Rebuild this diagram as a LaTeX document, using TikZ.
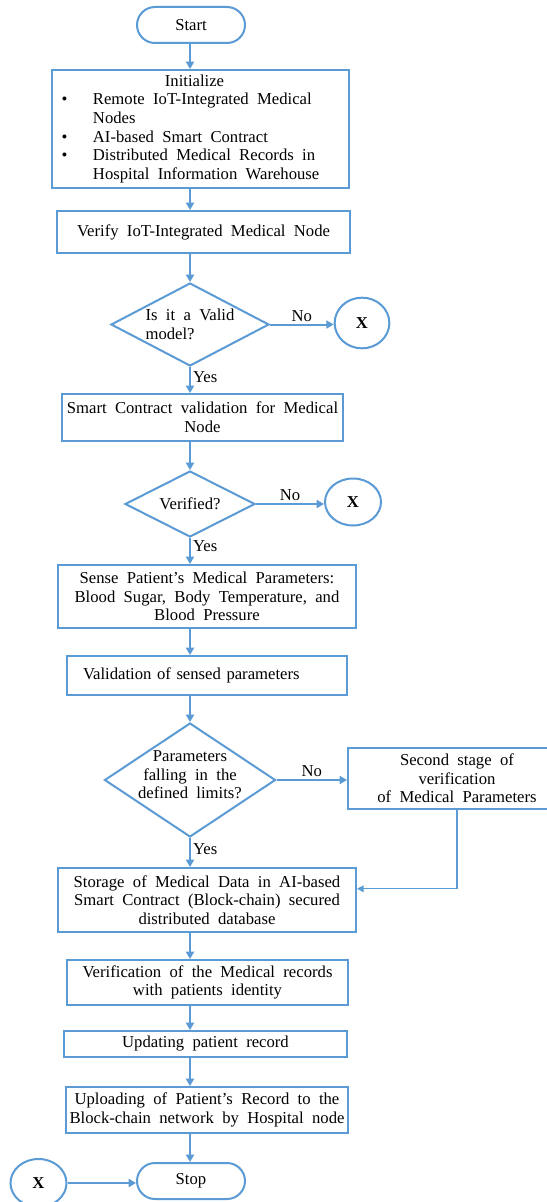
\documentclass[tikz,border=0pt]{standalone}
\usepackage{fontspec}
\setmainfont[WordSpace=2]{Liberation Serif}
\usetikzlibrary{shapes.geometric,arrows.meta,calc}
\definecolor{flow}{RGB}{91,155,213}
\begin{document}
\begin{tikzpicture}[x=0.75pt,y=-0.75pt,
 every node/.style={font=\fontsize{12.5}{14}\selectfont, text=black},
 box/.style={draw=flow, line width=1.5pt, align=center, inner sep=2pt},
 term/.style={draw=flow, line width=1.5pt, rounded corners=13.5pt, minimum width=81pt, minimum height=27pt},
 dia/.style={draw=flow, line width=1.5pt, diamond, inner sep=0pt},
 conn/.style={draw=flow, line width=1.5pt, ellipse, font=\fontsize{12.5}{14}\selectfont\bfseries, inner sep=0pt},
 arr/.style={draw=flow, line width=1.5pt, -{Triangle[width=6pt,length=5.5pt]}},
 thinarr/.style={draw=flow, line width=0.9pt, -{Triangle[width=5pt,length=5pt]}},
 lbl/.style={font=\fontsize{12.5}{14}\selectfont, inner sep=1.5pt}
]
\fill[white] (0,0) rectangle (546,1202);
\useasboundingbox (0,0) rectangle (546,1202);
\coordinate (spine) at (190,0);

\node[term] (start) at (191,25) {Start};
\node[box, minimum width=222.75pt, minimum height=88.5pt] (init) at (200.5,129) {%
\begin{tabular}{@{}p{23.5pt}@{}l@{\hspace{15pt}}}
\multicolumn{2}{c@{\hspace{15pt}}}{Initialize}\\
\textbullet & Remote IoT-Integrated Medical\\
 & Nodes\\
\textbullet & AI-based Smart Contract\\
\textbullet & Distributed Medical Records in\\
 & Hospital Information Warehouse
\end{tabular}};
\node[box, minimum width=219.75pt, minimum height=31.5pt] (verify) at (203.5,232) {Verify IoT-Integrated Medical Node};
\node[dia, minimum width=118.5pt, minimum height=62.25pt, label={[align=left]center:Is it a Valid\\model?}] (d1) at (190,324.5) {};
\node[conn, minimum width=41pt, minimum height=38pt] (x1) at (362,323) {X};
\node[box, minimum width=210.75pt, minimum height=35.25pt] (sc) at (202.5,417.5) {Smart Contract validation for Medical\\Node};
\node[dia, minimum width=97.5pt, minimum height=49.5pt, label=center:Verified?] (d2) at (190,504) {};
\node[conn, minimum width=42pt, minimum height=35.25pt] (x2) at (353,502) {X};
\node[box, minimum width=223.5pt, minimum height=47.25pt] (sense) at (207,596.5) {Sense Patient's Medical Parameters:\\Blood Sugar, Body Temperature, and\\Blood Pressure};
\node[box, minimum width=210pt, minimum height=29.25pt, text width=186pt, inner xsep=12pt, align=left] (valid) at (207,675.5) {Validation of sensed parameters};
\node[dia, minimum width=128.25pt, minimum height=85.5pt, label={[align=center,yshift=4pt]center:Parameters\\falling in the\\defined limits?}] (d3) at (190,780) {};
\node[box, minimum width=163.5pt, minimum height=45.75pt] (second) at (457,778.5) {Second stage of\\verification\\of Medical Parameters};
\node[box, minimum width=223.5pt, minimum height=48pt] (store) at (207,900) {Storage of Medical Data in AI-based\\Smart Contract (Block-chain) secured\\distributed database};
\node[box, minimum width=210.75pt, minimum height=33.75pt] (verif) at (207.5,982.5) {Verification of the Medical records\\with patients identity};
\node[box, minimum width=212.25pt, minimum height=19.5pt] (upd) at (205.5,1044) {Updating patient record};
\node[box, minimum width=211.5pt, minimum height=34.5pt] (upl) at (207,1110) {Uploading of Patient's Record to the\\Block-chain network by Hospital node};
\node[term] (stop) at (191,1181) {Stop};
\node[conn, minimum width=42pt, minimum height=36pt] (x3) at (38.5,1183) {X};

\draw[arr] (start.south -| spine) -- (init.north -| spine);
\draw[arr] (init.south -| spine) -- (verify.north -| spine);
\draw[arr] (verify.south -| spine) -- (d1.north);
\draw[arr] (d1.east) -- node[lbl, above]{No} (d1.east -| x1.west);
\draw[arr] (d1.south) -- node[lbl, right, pos=0.4]{Yes} (sc.north -| d1.south);
\draw[arr] (sc.south -| spine) -- (d2.north);
\draw[arr] (d2.east) -- node[lbl, above]{No} (d2.east -| x2.west);
\draw[arr] (d2.south) -- node[lbl, right, pos=0.3]{Yes} (sense.north -| d2.south);
\draw[arr] (sense.south -| spine) -- (valid.north -| spine);
\draw[arr] (valid.south -| spine) -- (d3.north);
\draw[arr] (d3.east) -- node[lbl, above]{No} (d3.east -| second.west);
\draw[arr] (d3.south) -- node[lbl, right, pos=0.4]{Yes} (store.north -| d3.south);
\draw[thinarr] (second.south) |- ($(store.north east)!0.33!(store.south east)$);
\draw[arr] (store.south -| spine) -- (verif.north -| spine);
\draw[arr] (verif.south -| spine) -- (upd.north -| spine);
\draw[arr] (upd.south -| spine) -- (upl.north -| spine);
\draw[arr] (upl.south -| spine) -- (stop.north -| spine);
\draw[arr] (x3.east) -- (x3.east -| stop.west);
\end{tikzpicture}
\end{document}
